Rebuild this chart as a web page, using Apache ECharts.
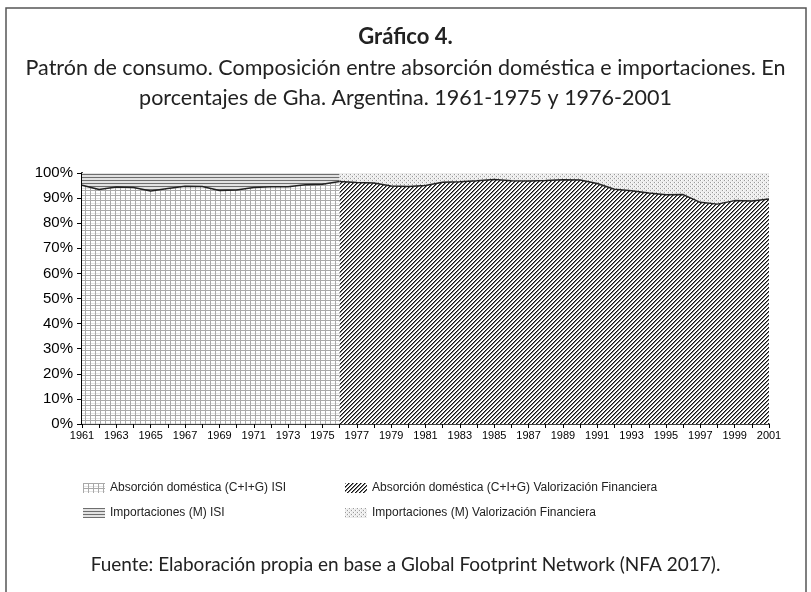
<!DOCTYPE html>
<html>
<head>
<meta charset="utf-8">
<script src="https://cdn.jsdelivr.net/npm/echarts@6/dist/echarts.min.js"></script>
<style>
  html, body { margin: 0; padding: 0; background: #fff; }
  #chart { width: 811px; height: 592px; }
</style>
</head>
<body>
<div id="chart"></div>
<script>
// años (categorías del eje x)
var years = ['1961', '1962', '1963', '1964', '1965', '1966', '1967', '1968', '1969', '1970',
  '1971', '1972', '1973', '1974', '1975', '1976', '1977', '1978', '1979', '1980',
  '1981', '1982', '1983', '1984', '1985', '1986', '1987', '1988', '1989', '1990',
  '1991', '1992', '1993', '1994', '1995', '1996', '1997', '1998', '1999', '2000', '2001']

// período ISI: 1961-1976
var absorcionISI = [95.1, 93.4, 94.4, 94.2, 92.8, 93.8, 94.7, 94.6, 93.0, 93.2, 94.2, 94.5, 94.5, 95.3, 95.5, 96.6]
var importacionesISI = [4.9, 6.6, 5.6, 5.8, 7.2, 6.2, 5.3, 5.4, 7.0, 6.8, 5.8, 5.5, 5.5, 4.7, 4.5, 3.4]

// período Valorización Financiera: 1976-2001
var absorcionVF = [96.6, 96.2, 96.0, 94.8, 94.6, 95.0, 96.3, 96.5, 96.9, 97.4, 96.9, 96.8, 97.0,
  97.3, 97.2, 95.8, 93.5, 92.9, 92.0, 91.3, 91.4, 88.3, 87.6, 89.0, 88.8, 89.6]
var importacionesVF = [3.4, 3.8, 4.0, 5.2, 5.4, 5.0, 3.7, 3.5, 3.1, 2.6, 3.1, 3.2, 3.0,
  2.7, 2.8, 4.2, 6.5, 7.1, 8.0, 8.7, 8.6, 11.7, 12.4, 11.0, 11.2, 10.4]

var yTicks = [0, 10, 20, 30, 40, 50, 60, 70, 80, 90, 100]

var names = {
  absISI: 'Absorción doméstica (C+I+G) ISI',
  impISI: 'Importaciones (M) ISI',
  absVF: 'Absorción doméstica (C+I+G) Valorización Financiera',
  impVF: 'Importaciones (M) Valorización Financiera'
}

// tramas en canvas
function pattern (size, draw) {
  var c = document.createElement('canvas')
  c.width = size
  c.height = size
  var ctx = c.getContext('2d')
  ctx.fillStyle = '#fff'
  ctx.fillRect(0, 0, size, size)
  draw(ctx)
  return { image: c, repeat: 'repeat' }
}

var gridFill = pattern(5, function (ctx) {
  ctx.fillStyle = '#a9a9a9'
  ctx.fillRect(0, 0, 5, 1)
  ctx.fillRect(0, 0, 1, 5)
  ctx.fillStyle = '#e4e4e4'
  ctx.fillRect(1, 3, 4, 1)
})

var hLinesFill = pattern(3, function (ctx) {
  ctx.fillStyle = '#e2e2e2'
  ctx.fillRect(0, 0, 3, 3)
  ctx.fillStyle = '#6e6e6e'
  ctx.fillRect(0, 0, 3, 1)
})

var hatchFill = pattern(4, function (ctx) {
  for (var y = 0; y < 4; y++) {
    ctx.fillStyle = '#111'
    ctx.fillRect(3 - y, y, 1, 1)
    ctx.fillStyle = '#7a7a7a'
    ctx.fillRect((4 - y) % 4, y, 1, 1)
  }
})

var dotsFill = pattern(4, function (ctx) {
  ctx.fillStyle = '#ececec'
  ctx.fillRect(0, 0, 4, 4)
  ctx.fillStyle = '#9a9a9a'
  ctx.fillRect(0, 0, 1, 1)
  ctx.fillRect(2, 2, 1, 1)
  ctx.fillStyle = '#fff'
  ctx.fillRect(1, 0, 1, 1)
  ctx.fillRect(3, 2, 1, 1)
})

function pad (arr, before, after) {
  var out = []
  for (var i = 0; i < before; i++) out.push(null)
  out = out.concat(arr)
  for (var j = 0; j < after; j++) out.push(null)
  return out
}

function areaSeries (name, stack, data, fill, lineColor, lineWidth) {
  return {
    name: name,
    type: 'line',
    stack: stack,
    data: data,
    showSymbol: false,
    symbol: 'none',
    silent: true,
    lineStyle: { color: lineColor, width: lineWidth },
    itemStyle: { color: fill },
    areaStyle: { color: fill, opacity: 1 }
  }
}

var legendText = { fontFamily: 'Liberation Sans', fontSize: 12, color: '#222' }
var titleFont = 'Lato'

var chart = echarts.init(document.getElementById('chart'), null, { renderer: 'canvas' })

var option = {
  backgroundColor: '#fff',
  animation: false,
  title: [
    { text: 'Gráfico 4.', left: 'center', top: 21, textStyle: { fontFamily: titleFont, fontWeight: 'bold', fontSize: 22, color: '#222' } },
    { text: 'Patrón de consumo. Composición entre absorción doméstica e importaciones. En', left: 'center', top: 52, textStyle: { fontFamily: titleFont, fontWeight: 'normal', fontSize: 21.5, color: '#222' } },
    { text: 'porcentajes de Gha. Argentina. 1961-1975 y 1976-2001', left: 'center', top: 82, textStyle: { fontFamily: titleFont, fontWeight: 'normal', fontSize: 21.5, color: '#222' } },
    { text: 'Fuente: Elaboración propia en base a Global Footprint Network (NFA 2017).', left: 'center', top: 550, textStyle: { fontFamily: titleFont, fontWeight: 'normal', fontSize: 19, color: '#222' } }
  ],
  graphic: [
    { type: 'rect', shape: { x: 6, y: 8, width: 800, height: 620 }, style: { fill: 'none', stroke: '#555', lineWidth: 1.5 }, silent: true }
  ],
  legend: [
    {
      orient: 'vertical', left: 78, top: 477, itemGap: 13, itemWidth: 22, itemHeight: 10,
      icon: 'rect', textStyle: legendText,
      data: [{ name: names.absISI, itemStyle: { color: gridFill } }, { name: names.impISI, itemStyle: { color: hLinesFill } }]
    },
    {
      orient: 'vertical', left: 340, top: 477, itemGap: 13, itemWidth: 22, itemHeight: 10,
      icon: 'rect', textStyle: legendText,
      data: [{ name: names.absVF, itemStyle: { color: hatchFill } }, { name: names.impVF, itemStyle: { color: dotsFill } }]
    }
  ],
  grid: { left: 82, right: 42, top: 173, bottom: 168 },
  xAxis: {
    type: 'category',
    boundaryGap: false,
    data: years,
    axisLine: { lineStyle: { color: '#000', width: 1.5 } },
    axisTick: { show: true, interval: 0, length: 4, lineStyle: { color: '#000' } },
    axisLabel: { interval: 1, fontFamily: 'Liberation Sans', fontSize: 11, color: '#000', margin: 6 }
  },
  yAxis: {
    type: 'value',
    min: yTicks[0],
    max: yTicks[yTicks.length - 1],
    interval: 10,
    axisLine: { show: true, lineStyle: { color: '#000', width: 2 } },
    axisTick: { show: true, length: 5, lineStyle: { color: '#000' } },
    splitLine: { show: false },
    axisLabel: { formatter: '{value}%', fontFamily: 'Liberation Sans', fontSize: 15, color: '#000', margin: 9 }
  },
  series: [
    areaSeries(names.absISI, 'isi', pad(absorcionISI, 0, 25), gridFill, '#222', 1.5),
    areaSeries(names.impISI, 'isi', pad(importacionesISI, 0, 25), hLinesFill, '#6e6e6e', 0),
    areaSeries(names.absVF, 'vf', pad(absorcionVF, 15, 0), hatchFill, '#222', 1.5),
    areaSeries(names.impVF, 'vf', pad(importacionesVF, 15, 0), dotsFill, '#999', 0)
  ]
}

chart.setOption(option)
</script>
</body>
</html>
